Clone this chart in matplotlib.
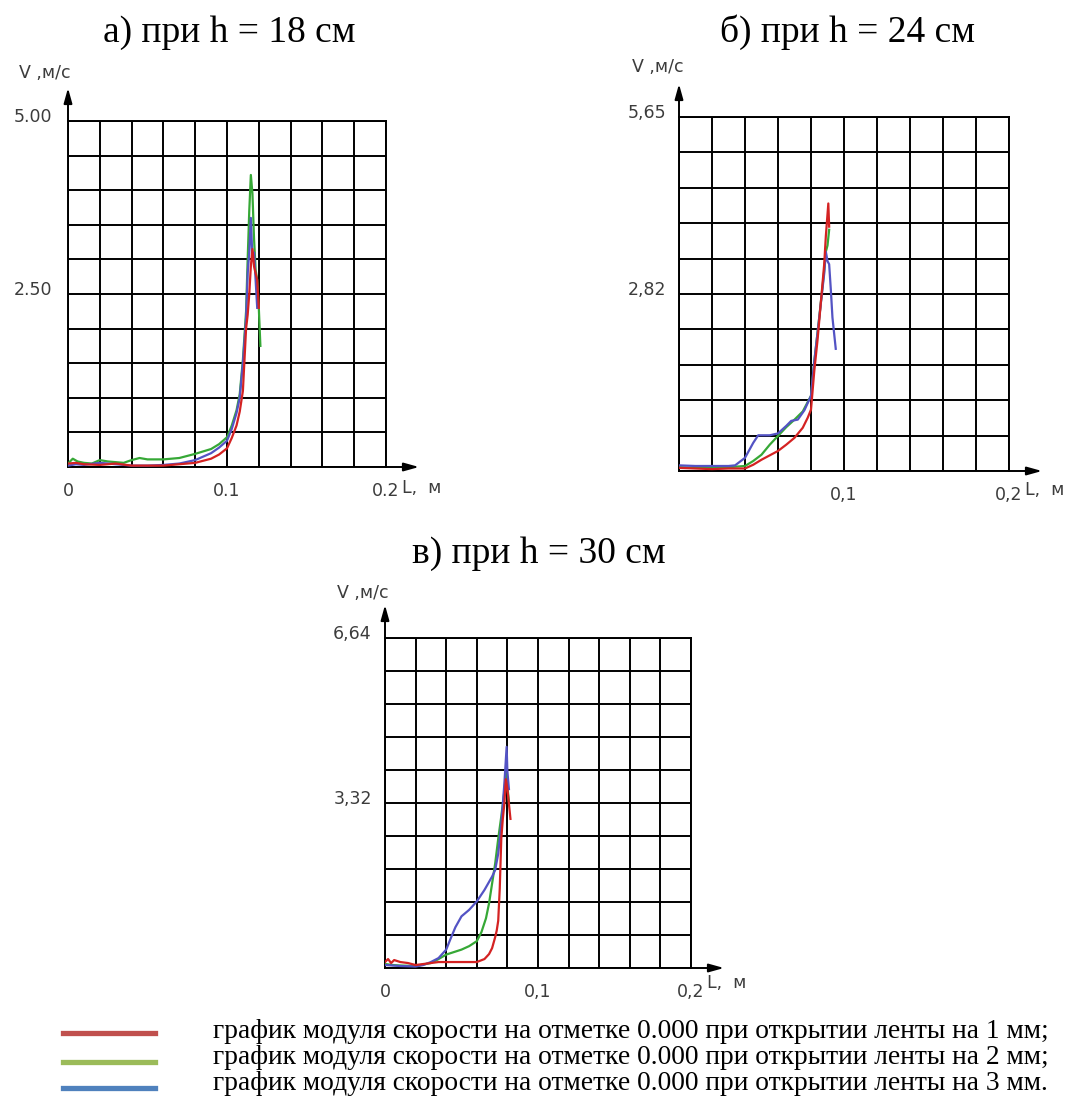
import numpy as np
import matplotlib
matplotlib.use('Agg')
import matplotlib.pyplot as plt
from matplotlib.lines import Line2D
from matplotlib.transforms import ScaledTranslation

# скорость вдоль ленты, L в метрах, V в м/с
# а) h = 18 см
a_x1 = [0, 0.005, 0.01, 0.02, 0.03, 0.04, 0.05, 0.06, 0.07, 0.08, 0.09, 0.095, 0.1,
        0.103, 0.106, 0.108, 0.11, 0.112, 0.113, 0.114, 0.115, 0.116, 0.117, 0.118, 0.119, 0.12]
a_v1 = [0.05, 0.06, 0.04, 0.03, 0.05, 0.02, 0.02, 0.02, 0.04, 0.06, 0.12, 0.18, 0.27,
        0.42, 0.6, 0.8, 1.1, 2.0, 2.2, 2.5, 2.9, 3.15, 2.9, 2.8, 2.7, 2.3]
a_x2 = [0, 0.003, 0.006, 0.01, 0.015, 0.02, 0.025, 0.03, 0.035, 0.04, 0.045, 0.05, 0.06,
        0.07, 0.08, 0.09, 0.095, 0.1, 0.103, 0.106, 0.108, 0.11, 0.112, 0.113, 0.114,
        0.115, 0.116, 0.117, 0.118, 0.119, 0.12, 0.121]
a_v2 = [0.05, 0.12, 0.08, 0.06, 0.05, 0.1, 0.08, 0.07, 0.06, 0.1, 0.13, 0.11, 0.11,
        0.13, 0.19, 0.26, 0.33, 0.43, 0.6, 0.82, 1.05, 1.55, 2.25, 3.0, 3.7,
        4.22, 3.95, 3.3, 2.85, 2.7, 2.3, 1.75]
a_x3 = [0, 0.005, 0.01, 0.02, 0.03, 0.04, 0.05, 0.06, 0.07, 0.08, 0.09, 0.095, 0.1,
        0.103, 0.106, 0.108, 0.11, 0.112, 0.113, 0.114, 0.115, 0.116, 0.117, 0.118, 0.119]
a_v3 = [0.02, 0.04, 0.03, 0.06, 0.04, 0.02, 0.02, 0.03, 0.05, 0.1, 0.2, 0.28, 0.38,
        0.55, 0.78, 1.0, 1.5, 2.15, 2.8, 3.1, 3.6, 3.0, 3.1, 2.7, 2.3]

# б) h = 24 см
b_x1 = [0, 0.01, 0.02, 0.03, 0.04, 0.045, 0.05, 0.055, 0.06, 0.065, 0.07, 0.075, 0.078,
        0.08, 0.082, 0.084, 0.086, 0.088, 0.089, 0.0905, 0.091]
b_v1 = [0.05, 0.04, 0.03, 0.04, 0.04, 0.1, 0.18, 0.25, 0.32, 0.42, 0.53, 0.69, 0.85,
        0.98, 1.6, 2.1, 2.7, 3.3, 3.75, 4.27, 3.9]
b_x2 = [0, 0.01, 0.02, 0.03, 0.04, 0.045, 0.05, 0.055, 0.06, 0.065, 0.07, 0.075, 0.08,
        0.082, 0.085, 0.088, 0.089, 0.09, 0.091]
b_v2 = [0.06, 0.05, 0.05, 0.06, 0.08, 0.16, 0.26, 0.42, 0.56, 0.7, 0.82, 0.95, 1.2,
        1.75, 2.45, 3.2, 3.5, 3.6, 3.85]
b_x3 = [0, 0.01, 0.02, 0.03, 0.034, 0.04, 0.045, 0.048, 0.055, 0.06, 0.065, 0.068,
        0.072, 0.076, 0.08, 0.082, 0.085, 0.088, 0.089, 0.09, 0.091, 0.092, 0.093,
        0.094, 0.095]
b_v3 = [0.09, 0.08, 0.08, 0.08, 0.09, 0.21, 0.45, 0.57, 0.57, 0.6, 0.72, 0.8,
        0.82, 0.97, 1.2, 1.75, 2.45, 3.15, 3.5, 3.35, 3.3, 2.9, 2.45, 2.2, 1.95]

# в) h = 30 см
c_x1 = [0, 0.002, 0.004, 0.006, 0.01, 0.015, 0.02, 0.025, 0.03, 0.035, 0.04, 0.05,
        0.06, 0.065, 0.068, 0.07, 0.072, 0.073, 0.074, 0.075, 0.076, 0.077, 0.078,
        0.079, 0.08, 0.081, 0.082]
c_v1 = [0.12, 0.18, 0.1, 0.16, 0.12, 0.1, 0.06, 0.08, 0.1, 0.12, 0.12, 0.12,
        0.12, 0.18, 0.28, 0.4, 0.62, 0.75, 0.95, 1.6, 2.6, 3.0, 3.3,
        3.8, 3.6, 3.3, 3.0]
c_x2 = [0, 0.005, 0.01, 0.02, 0.03, 0.035, 0.04, 0.045, 0.05, 0.055, 0.06, 0.063,
        0.066, 0.068, 0.07, 0.072, 0.074, 0.076, 0.078, 0.079, 0.08, 0.081]
c_v2 = [0.08, 0.06, 0.05, 0.04, 0.1, 0.18, 0.27, 0.32, 0.37, 0.44, 0.54, 0.72,
        1.0, 1.3, 1.7, 2.1, 2.6, 3.05, 3.55, 3.95, 3.65, 3.35]
c_x3 = [0, 0.005, 0.01, 0.02, 0.025, 0.03, 0.035, 0.04, 0.043, 0.046, 0.05, 0.055,
        0.06, 0.065, 0.07, 0.072, 0.074, 0.076, 0.078, 0.0795, 0.08, 0.081]
c_v3 = [0.06, 0.05, 0.04, 0.03, 0.06, 0.12, 0.2, 0.37, 0.6, 0.82, 1.04, 1.17,
        1.34, 1.57, 1.84, 1.97, 2.3, 2.9, 3.7, 4.45, 3.95, 3.6]

titles = ['а) при h = 18 см', 'б) при h = 24 см', 'в) при h = 30 см']
v_max = [5.00, 5.65, 6.64]
v_labels = [['2.50', '5.00'], ['2,82', '5,65'], ['3,32', '6,64']]
l_labels = [['0', '0.1', '0.2'], ['', '0,1', '0,2'], ['0', '0,1', '0,2']]

legend_labels = [
    'график модуля скорости на отметке 0.000 при открытии ленты на 1 мм;',
    'график модуля скорости на отметке 0.000 при открытии ленты на 2 мм;',
    'график модуля скорости на отметке 0.000 при открытии ленты на 3 мм.',
]
legend_colors = ['#c0504d', '#9bbb59', '#4f81bd']
curve_colors = ['#d42222', '#36a836', '#5353c4']

W, H = 1076, 1100
fig = plt.figure(figsize=(W / 100, H / 100), dpi=100)


def fx(px):
    return px / W


def fy(py):
    return 1 - py / H


# grid boxes in pixels: left, top, right, bottom
boxes = [(68, 121, 386, 467), (679, 117, 1009, 471), (385, 638, 691, 968)]
title_pos = [(103, 42), (720, 42), (412, 563)]
v_name_pos = [(45, 73), (658, 67), (363, 593)]
l_name_pos = [(402, 488), (1025, 490), (707, 983)]
y_pads = [11.5, 9, 9.5]

data = [
    [(a_x2, a_v2), (a_x3, a_v3), (a_x1, a_v1)],
    [(b_x2, b_v2), (b_x3, b_v3), (b_x1, b_v1)],
    [(c_x2, c_v2), (c_x3, c_v3), (c_x1, c_v1)],
]
order = [1, 2, 0]  # green, blue, red on top

tick_font = dict(family='DejaVu Sans', size=12.5, color='#3c3c3c')

for i in range(3):
    l, t, r, b = boxes[i]
    ax = fig.add_axes([fx(l), fy(b), fx(r - l), (b - t) / H])
    ax.set_xlim(0, 0.2)
    ax.set_ylim(0, v_max[i])

    xt = np.linspace(0, 0.2, 11)
    xl = [''] * 11
    xl[0], xl[5], xl[10] = l_labels[i]
    ax.set_xticks(xt)
    ax.set_xticklabels(xl, fontdict=tick_font)

    yt = np.linspace(0, v_max[i], 11)
    yl = [''] * 11
    yl[5], yl[10] = v_labels[i]
    ax.set_yticks(yt)
    ax.set_yticklabels(yl, fontdict=tick_font)

    ax.tick_params(length=0, pad=y_pads[i])
    ax.tick_params(axis='x', pad=11)
    shift = ScaledTranslation(0, 6 / 100, fig.dpi_scale_trans)
    for lab in ax.get_yticklabels():
        lab.set_transform(lab.get_transform() + shift)

    ax.grid(True, color='black', lw=1.4)
    for s in ax.spines.values():
        s.set_color('black')
        s.set_linewidth(1.4)

    for k, (x, v) in enumerate(data[i]):
        ax.plot(x, v, color=curve_colors[order[k]], lw=1.6, zorder=3)

    # axis arrows
    arrow = dict(arrowstyle='<|-,head_length=0.9,head_width=0.25', color='black',
                 lw=1.4, shrinkA=0, shrinkB=0, mutation_scale=10)
    ax.annotate('', xy=(0, 1), xycoords='axes fraction',
                xytext=(0, 33), textcoords='offset pixels', arrowprops=arrow)
    ax.annotate('', xy=(1, 0), xycoords='axes fraction',
                xytext=(33, 0), textcoords='offset pixels', arrowprops=arrow)

    fig.text(fx(v_name_pos[i][0]), fy(v_name_pos[i][1]), 'V ,м/с',
             ha='center', va='center', **tick_font)
    fig.text(fx(l_name_pos[i][0]), fy(l_name_pos[i][1]), 'L,  м',
             ha='left', va='center', **tick_font)

    fig.text(fx(title_pos[i][0]), fy(title_pos[i][1]), titles[i],
             family='Liberation Serif', size=27, ha='left', va='baseline')

# legend
leg_line_y = [1033, 1062, 1088]
leg_text_y = [1038, 1064, 1090]
for j in range(3):
    fig.add_artist(Line2D([fx(63), fx(155)], [fy(leg_line_y[j])] * 2,
                          transform=fig.transFigure, color=legend_colors[j], lw=3.8))
    fig.text(fx(213), fy(leg_text_y[j]), legend_labels[j],
             family='Liberation Serif', size=19.8, ha='left', va='baseline')

fig.savefig('out.png', dpi=100)
